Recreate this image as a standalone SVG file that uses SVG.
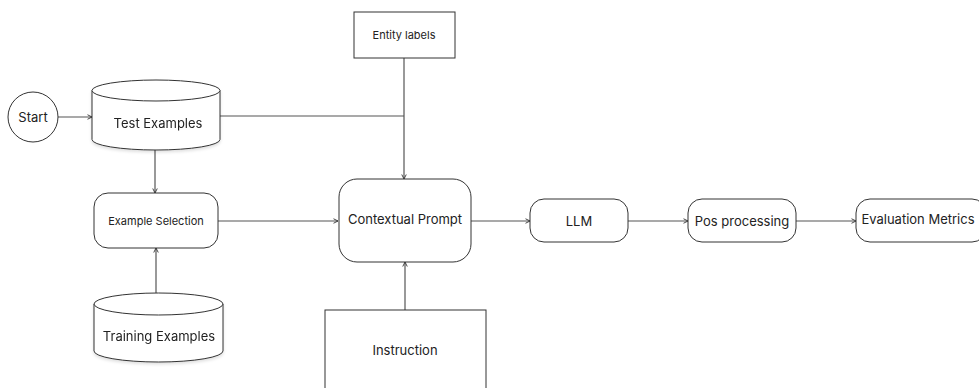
<svg xmlns="http://www.w3.org/2000/svg" width="979" height="388" viewBox="0 0 979 388">
<defs>
<marker id="arr" viewBox="0 0 8 8" refX="7" refY="4" markerWidth="6" markerHeight="6" markerUnits="userSpaceOnUse" orient="auto">
<path d="M1,1 L7,4 L1,7" fill="none" stroke="#333" stroke-width="1.2"/>
</marker>
<filter id="sh" x="-10%" y="-10%" width="120%" height="130%">
<feDropShadow dx="0" dy="2" stdDeviation="1.5" flood-color="#000" flood-opacity="0.12"/>
</filter>
</defs>
<style>
.n{fill:#fff;stroke:#333;stroke-width:1}
.t{font-family:Inter,"Liberation Sans",sans-serif;fill:#222;text-anchor:middle;dominant-baseline:central}
.c{fill:none;stroke:#555;stroke-width:1.2}
</style>
<rect width="979" height="388" fill="#fff"/>
<g id="connectors">
<path class="c" d="M58,117 H92" marker-end="url(#arr)"/>
<path class="c" d="M220,116 H404"/>
<path class="c" d="M404,58 V179" marker-end="url(#arr)"/>
<path class="c" d="M155,150 V193" marker-end="url(#arr)"/>
<path class="c" d="M156,293 V248" marker-end="url(#arr)"/>
<path class="c" d="M218,221 H338" marker-end="url(#arr)"/>
<path class="c" d="M405,310 V262" marker-end="url(#arr)"/>
<path class="c" d="M471,221 H530" marker-end="url(#arr)"/>
<path class="c" d="M628,221 H688" marker-end="url(#arr)"/>
<path class="c" d="M796,221 H856" marker-end="url(#arr)"/>
</g>
<g id="start">
<circle class="n" cx="33" cy="117" r="25"/>
<text class="t" x="33" y="117" font-size="13">Start</text>
</g>
<g id="test-examples" filter="url(#sh)">
<path class="n" d="M92,90.5 A64,10.5 0 0 1 220,90.5 V139.5 A64,10.5 0 0 1 92,139.5 Z"/>
<path class="n" d="M92,90.5 A64,10.5 0 0 0 220,90.5" fill="none"/>
<text class="t" x="158" y="123" font-size="13">Test Examples</text>
</g>
<g id="entity-labels">
<rect class="n" x="354" y="12" width="101" height="46"/>
<text class="t" x="404" y="35" font-size="11">Entity labels</text>
</g>
<g id="example-selection">
<rect class="n" x="94" y="193" width="124" height="55" rx="14"/>
<text class="t" x="156" y="221" font-size="11">Example Selection</text>
</g>
<g id="training-examples" filter="url(#sh)">
<path class="n" d="M94,304 A64.5,11 0 0 1 223,304 V351 A64.5,11 0 0 1 94,351 Z"/>
<path class="n" d="M94,304 A64.5,11 0 0 0 223,304" fill="none"/>
<text class="t" x="159" y="336" font-size="13">Training Examples</text>
</g>
<g id="contextual-prompt">
<rect class="n" x="339" y="179" width="132" height="83" rx="18"/>
<text class="t" x="405" y="219" font-size="13">Contextual Prompt</text>
</g>
<g id="instruction">
<rect class="n" x="325" y="310" width="161" height="90"/>
<text class="t" x="405" y="350" font-size="13">Instruction</text>
</g>
<g id="llm">
<rect class="n" x="530" y="199" width="98" height="43" rx="14"/>
<text class="t" x="579" y="221" font-size="13">LLM</text>
</g>
<g id="pos-processing">
<rect class="n" x="688" y="199" width="108" height="43" rx="14"/>
<text class="t" x="742" y="221" font-size="13">Pos processing</text>
</g>
<g id="evaluation-metrics">
<rect class="n" x="856" y="199" width="130" height="43" rx="14"/>
<text class="t" x="918" y="219" font-size="13">Evaluation Metrics</text>
</g>
</svg>
